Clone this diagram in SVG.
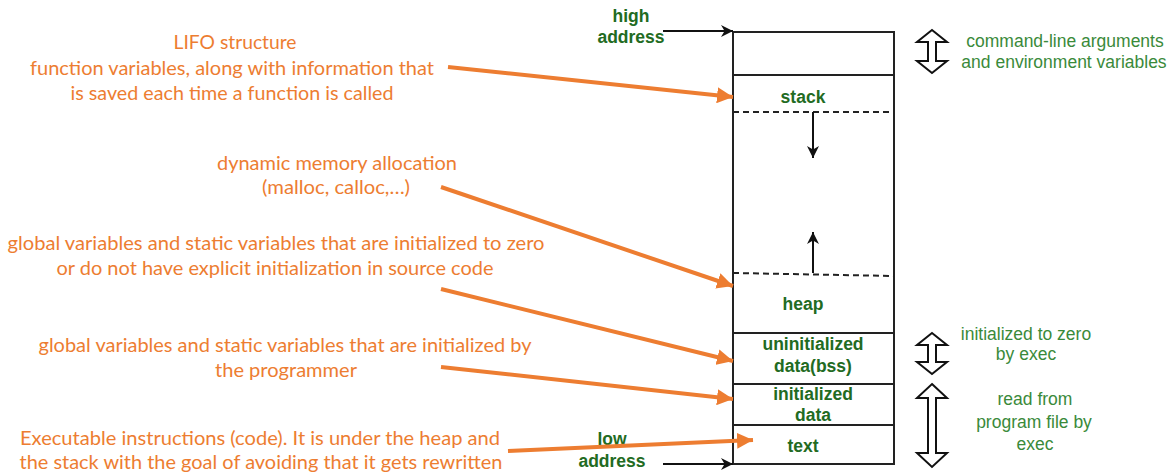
<svg xmlns="http://www.w3.org/2000/svg" width="1176" height="472" viewBox="0 0 1176 472">
<defs>
<style>
.or{font-family:Lato,"Liberation Sans",sans-serif;font-size:19px;fill:#ED7D31;text-anchor:middle}
.lb{font-family:"Liberation Sans",Arial,sans-serif;font-size:17.5px;font-weight:bold;fill:#226b22;text-anchor:middle}
.rt{font-family:"Liberation Sans",Arial,sans-serif;font-size:17.5px;fill:#3a8a3a;text-anchor:middle}
.box{fill:#fff;stroke:#222;stroke-width:2}
.ln{stroke:#222;stroke-width:2;fill:none}
.dash{stroke:#222;stroke-width:2;stroke-dasharray:6,4;fill:none}
.oarr{stroke:#ED7D31;stroke-width:4;fill:none;marker-end:url(#oh)}
.karr{stroke:#111;stroke-width:2;fill:none;marker-end:url(#kh)}
.dbl{fill:#fff;stroke:#111;stroke-width:2;stroke-linejoin:miter}
</style>
<marker id="oh" viewBox="0 0 10 10" refX="10" refY="5" markerWidth="4" markerHeight="4" orient="auto" markerUnits="strokeWidth">
<path d="M0,0 L10,5 L0,10 Z" fill="#ED7D31"/>
</marker>
<marker id="kh" viewBox="0 0 10 10" refX="10" refY="5" markerWidth="6" markerHeight="6" orient="auto" markerUnits="strokeWidth">
<path d="M0,0 L10,5 L0,10 L3,5 Z" fill="#111"/>
</marker>
</defs>
<rect width="1176" height="472" fill="#fff"/>

<g id="memory">
<rect class="box" x="733" y="32" width="161" height="432"/>
<line class="ln" x1="733" y1="75" x2="894" y2="75"/>
<line class="dash" x1="733" y1="112" x2="894" y2="112"/>
<line class="dash" x1="733" y1="273" x2="894" y2="276"/>
<line class="ln" x1="733" y1="333" x2="894" y2="333"/>
<line class="ln" x1="733" y1="384" x2="894" y2="384"/>
<line class="ln" x1="733" y1="425" x2="894" y2="425"/>
</g>

<g id="seg-stack"><text class="lb" x="803" y="103">stack</text></g>
<g id="seg-heap"><text class="lb" x="803" y="310">heap</text></g>
<g id="seg-bss"><text class="lb" x="813" y="350">uninitialized</text><text class="lb" x="813" y="372">data(bss)</text></g>
<g id="seg-data"><text class="lb" x="813" y="400">initialized</text><text class="lb" x="813" y="421">data</text></g>
<g id="seg-text"><text class="lb" x="803" y="452">text</text></g>

<g id="high-address"><text class="lb" x="631" y="22">high</text><text class="lb" x="631" y="43">address</text></g>
<g id="low-address"><text class="lb" x="612" y="445">low</text><text class="lb" x="612" y="467">address</text></g>

<g id="note-args">
<path class="dbl" d="M932,30 L947,42 L936,42 L936,61 L947,61 L932,73 L917,61 L928,61 L928,42 L917,42 Z"/>
<text class="rt" x="1065" y="47">command-line arguments</text>
<text class="rt" x="1064" y="68">and environment variables</text>
</g>
<g id="note-zero">
<path class="dbl" d="M932,333 L947,345 L936,345 L936,362 L947,362 L932,374 L917,362 L928,362 L928,345 L917,345 Z"/>
<text class="rt" x="1026" y="340">initialized to zero</text>
<text class="rt" x="1026" y="360">by exec</text>
</g>
<g id="note-read">
<path class="dbl" d="M932,384 L947,398 L936,398 L936,453 L947,453 L932,467 L917,453 L928,453 L928,398 L917,398 Z"/>
<text class="rt" x="1035" y="405">read from</text>
<text class="rt" x="1034" y="428">program file by</text>
<text class="rt" x="1035" y="450">exec</text>
</g>

<g id="desc-stack">
<text class="or" x="235" y="49" textLength="123" lengthAdjust="spacingAndGlyphs">LIFO structure</text>
<text class="or" x="232" y="75" textLength="404" lengthAdjust="spacingAndGlyphs">function variables, along with information that</text>
<text class="or" x="232" y="100" textLength="323" lengthAdjust="spacingAndGlyphs">is saved each time a function is called</text>
</g>
<g id="desc-heap">
<text class="or" x="337" y="170" textLength="240" lengthAdjust="spacingAndGlyphs">dynamic memory allocation</text>
<text class="or" x="336" y="194" textLength="148" lengthAdjust="spacingAndGlyphs">(malloc, calloc,…)</text>
</g>
<g id="desc-bss">
<text class="or" x="276" y="250" textLength="537" lengthAdjust="spacingAndGlyphs">global variables and static variables that are initialized to zero</text>
<text class="or" x="275" y="275" textLength="437" lengthAdjust="spacingAndGlyphs">or do not have explicit initialization in source code</text>
</g>
<g id="desc-data">
<text class="or" x="285" y="352" textLength="493" lengthAdjust="spacingAndGlyphs">global variables and static variables that are initialized by</text>
<text class="or" x="286" y="377" textLength="142" lengthAdjust="spacingAndGlyphs">the programmer</text>
</g>
<g id="desc-text">
<text class="or" x="260" y="445" textLength="480" lengthAdjust="spacingAndGlyphs">Executable instructions (code). It is under the heap and</text>
<text class="or" x="261" y="469" textLength="483" lengthAdjust="spacingAndGlyphs">the stack with the goal of avoiding that it gets rewritten</text>
</g>

<g id="connectors">
<line class="karr" x1="663" y1="31" x2="733" y2="31"/>
<line class="karr" x1="663" y1="464" x2="733" y2="464"/>
<line class="karr" x1="813" y1="112" x2="813" y2="158"/>
<line class="karr" x1="813" y1="273" x2="813" y2="232"/>
<line class="oarr" x1="448" y1="67" x2="733" y2="97"/>
<line class="oarr" x1="441" y1="187" x2="733" y2="286"/>
<line class="oarr" x1="441" y1="289" x2="733" y2="361"/>
<line class="oarr" x1="441" y1="367" x2="733" y2="399"/>
<line class="oarr" x1="508" y1="451" x2="753" y2="440"/>
</g>
</svg>
